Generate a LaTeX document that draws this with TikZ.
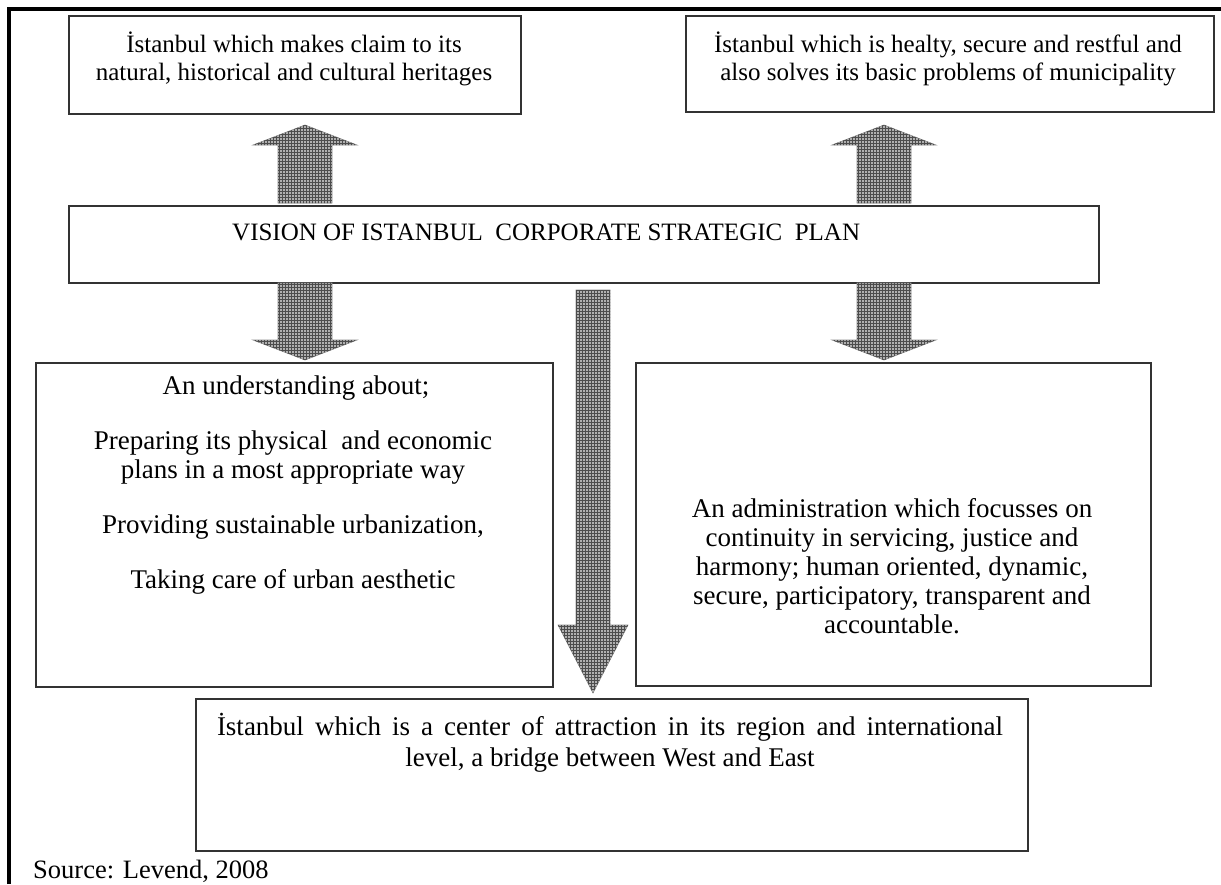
\documentclass[tikz,border=0pt]{standalone}
\usepackage{fontspec}
\setmainfont{Liberation Serif}
\usetikzlibrary{patterns}
\begin{document}
\begin{tikzpicture}[x=1pt,y=-1pt,
  box/.style={draw=black!80, line width=1.6pt, inner sep=0pt, anchor=north west},
  txt/.style={font=\fontsize{25}{28}\selectfont, inner sep=0pt, anchor=base},
  bigtxt/.style={txt, font=\fontsize{27}{30}\selectfont},
  blockarrow/.style={fill=gray!62, postaction={pattern=grid, pattern color=black!70}, draw=black!45, line width=0.6pt}]
\useasboundingbox (0,0) rectangle (1221,884);
\fill[white] (0,0) rectangle (1221,884);
\draw[line width=3.2pt] (9,884) |- (1221,9);
% boxes
\node[box, minimum width=452pt, minimum height=98pt] (b1) at (68,15) {};
\node[box, minimum width=528pt, minimum height=96pt] (b2) at (685,15) {};
\node[box, minimum width=1030pt, minimum height=77pt] (vc) at (68,205) {};
\node[box, minimum width=517pt, minimum height=324pt] (bl) at (35,362) {};
\node[box, minimum width=515pt, minimum height=323pt] (br) at (635,362) {};
\node[box, minimum width=832pt, minimum height=152pt] (bb) at (195,698) {};
% arrows
\path[blockarrow] (278,203)--(278,145)--(253,145)--(305,125)--(357,145)--(332,145)--(332,203)--cycle;
\path[blockarrow] (857,203)--(857,145)--(832,145)--(884,125)--(936,145)--(911,145)--(911,203)--cycle;
\path[blockarrow] (278,283)--(278,340)--(253,340)--(305,360)--(357,340)--(332,340)--(332,283)--cycle;
\path[blockarrow] (857,283)--(857,340)--(832,340)--(884,360)--(936,340)--(911,340)--(911,283)--cycle;
\path[blockarrow] (576,290)--(576,625)--(558,625)--(593,693)--(628,625)--(610,625)--(610,290)--cycle;
% texts
\node[txt] (t1a) at (294,52) {İstanbul which makes claim to its};
\node[txt] (t1b) at (294,80) {natural, historical and cultural heritages};
\node[txt] (t2a) at (948,52) {İstanbul which is healty, secure and restful and};
\node[txt] (t2b) at (948,80) {also solves its basic problems of municipality};
\node[txt, anchor=base west] (tv) at (232,240) {VISION OF ISTANBUL\ \ CORPORATE STRATEGIC\ \ PLAN};
\node[bigtxt] (tl1) at (296,394) {An understanding about;};
\node[bigtxt] (tl2) at (293,449) {Preparing its physical\ \ and economic};
\node[bigtxt] (tl3) at (293,478) {plans in a most appropriate way};
\node[bigtxt] (tl4) at (293,533) {Providing sustainable urbanization,};
\node[bigtxt] (tl5) at (293,588) {Taking care of urban aesthetic};
\node[bigtxt] (tr1) at (892,517) {An administration which focusses on};
\node[bigtxt] (tr2) at (892,546) {continuity in servicing, justice and};
\node[bigtxt] (tr3) at (892,575) {harmony; human oriented, dynamic,};
\node[bigtxt] (tr4) at (892,604) {secure, participatory, transparent and};
\node[bigtxt] (tr5) at (892,633) {accountable.};
\node[bigtxt] (tb1) at (610,735) {\makebox[786pt][s]{İstanbul which is a center of attraction in its region and international}};
\node[bigtxt] (tb2) at (610,766) {level, a bridge between West and East};
\node[txt, anchor=base west, font=\fontsize{26.5}{30}\selectfont] (src) at (33,878) {Source: Levend, 2008};
\end{tikzpicture}
\end{document}
